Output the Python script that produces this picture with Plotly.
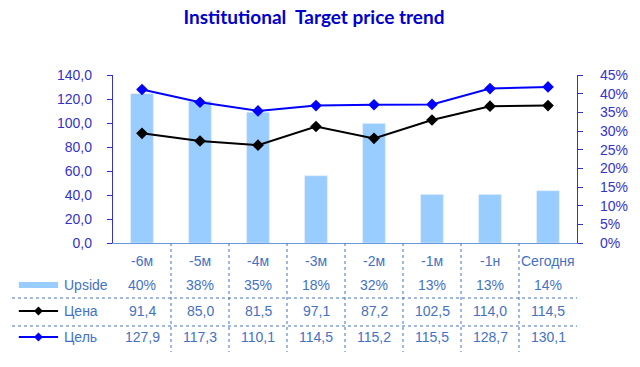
import plotly.graph_objects as go

categories = ["-6м", "-5м", "-4м", "-3м", "-2м", "-1м", "-1н", "Сегодня"]
upside = [0.40, 0.38, 0.35, 0.18, 0.32, 0.13, 0.13, 0.14]
price = [91.4, 85.0, 81.5, 97.1, 87.2, 102.5, 114.0, 114.5]
target = [127.9, 117.3, 110.1, 114.5, 115.2, 115.5, 128.7, 130.1]

series_names = ["Upside", "Цена", "Цель"]
left_ticks = [0, 20, 40, 60, 80, 100, 120, 140]

BAR = "#99CCFF"
AXIS = "#3333CC"
TXT = "#4472C4"
TARGET_C = "#0000FF"
FONT = "Liberation Sans, Arial, sans-serif"

# the page body has an 8px margin; work in screen pixels and compensate
OFF = 8
W, H = 640 - OFF, 367 - OFF
L, R, T, B = 113 - OFF, 586 - OFF, 75 - OFF, 243 - OFF


def px(x):
    return (x - OFF - L) / (R - L)


def py(y):
    return (B - (y - OFF)) / (B - T)


fig = go.Figure()
fig.add_trace(go.Bar(x=categories, y=upside, name=series_names[0], yaxis="y",
                     marker_color=BAR, showlegend=False))
fig.add_trace(go.Scatter(x=categories, y=price, name=series_names[1], mode="lines+markers",
                         yaxis="y2", line=dict(color="black", width=2),
                         marker=dict(symbol="diamond", size=9, color="black"), showlegend=False))
fig.add_trace(go.Scatter(x=categories, y=target, name=series_names[2], mode="lines+markers",
                         yaxis="y2", line=dict(color=TARGET_C, width=2),
                         marker=dict(symbol="diamond", size=9, color=TARGET_C), showlegend=False))

shapes = []
annotations = []

# table rows
row_y = [285, 311, 337]
row_text = [
    [f"{round(v * 100):d}%" for v in upside],
    [f"{v:.1f}".replace(".", ",") for v in price],
    [f"{v:.1f}".replace(".", ",") for v in target],
]
for c in categories:
    annotations.append(dict(x=c, xref="x", y=py(261), yref="paper", text=c, showarrow=False,
                            xanchor="center", yanchor="middle",
                            font=dict(family=FONT, size=14, color=TXT)))
for ry, texts in zip(row_y, row_text):
    for c, t in zip(categories, texts):
        annotations.append(dict(x=c, xref="x", y=py(ry), yref="paper", text=t, showarrow=False,
                                xanchor="center", yanchor="middle",
                                font=dict(family=FONT, size=14, color=TXT)))

# vertical dotted separators
for i in range(len(categories) - 1):
    shapes.append(dict(type="line", xref="x", yref="paper", x0=i + 0.5, x1=i + 0.5,
                       y0=0, y1=py(352), line=dict(color=TXT, width=1, dash="dot")))
# horizontal dotted separators
for hy in [298, 326]:
    shapes.append(dict(type="line", xref="paper", yref="paper", x0=px(10), x1=1,
                       y0=py(hy), y1=py(hy), line=dict(color=TXT, width=1, dash="dot")))

# legend keys
shapes.append(dict(type="rect", xref="paper", yref="paper", x0=px(17), x1=px(57),
                   y0=py(282), y1=py(288), fillcolor=BAR, line=dict(width=0)))
for ry, col in [(311, "black"), (337, TARGET_C)]:
    shapes.append(dict(type="line", xref="paper", yref="paper", x0=px(17), x1=px(57),
                       y0=py(ry), y1=py(ry), line=dict(color=col, width=2)))
    cx, cy, d = 37, ry, 4.5
    path = (f"M {px(cx)} {py(cy - d)} L {px(cx + d)} {py(cy)} L {px(cx)} {py(cy + d)} "
            f"L {px(cx - d)} {py(cy)} Z")
    shapes.append(dict(type="path", xref="paper", yref="paper", path=path,
                       fillcolor=col, line=dict(color=col, width=0)))
for ry, name in zip(row_y, series_names):
    annotations.append(dict(x=px(61), xref="paper", y=py(ry), yref="paper", text=name,
                            xanchor="left", yanchor="middle", showarrow=False,
                            font=dict(family=FONT, size=14, color=TXT)))

fig.update_layout(
    width=W, height=H, autosize=False,
    margin=dict(l=L, r=W - R, t=T, b=H - B, pad=0),
    paper_bgcolor="white", plot_bgcolor="white",
    separators=", ",
    title=dict(text="<b>Institutional  Target price trend</b>", x=(314 - OFF) / W, xanchor="center",
               y=1, yanchor="top", pad=dict(t=3),
               font=dict(family="Lato, sans-serif", size=19, color="#0000CC")),
    bargap=0.61,
    xaxis=dict(showticklabels=False, ticks="", showgrid=False, zeroline=False,
               showline=True, linecolor="#6699DD", linewidth=1, range=[-0.5, 7.5]),
    yaxis=dict(range=[0, 0.45], dtick=0.05, tickformat=".0%", side="right",
               ticks="outside", ticklen=5, tickcolor=AXIS, showline=True, linecolor=AXIS,
               linewidth=1.3, showgrid=False, zeroline=False, ticklabelstandoff=14,
               tickfont=dict(family=FONT, size=14, color=AXIS)),
    yaxis2=dict(range=[0, 140], tickvals=left_ticks, tickformat=".1f", overlaying="y",
                side="left", ticks="outside", ticklen=5, tickcolor=AXIS, showline=True,
                linecolor=AXIS, linewidth=1.3, showgrid=False, zeroline=False,
                ticklabelstandoff=12, tickfont=dict(family=FONT, size=14, color=AXIS)),
    yaxis3=dict(range=[0, 140], tickvals=left_ticks, overlaying="y", side="left",
                ticks="inside", ticklen=5, tickcolor=AXIS, showticklabels=False,
                showline=False, showgrid=False, zeroline=False),
    yaxis4=dict(range=[0, 0.45], dtick=0.05, overlaying="y", side="right",
                ticks="inside", ticklen=5, tickcolor=AXIS, showticklabels=False,
                showline=False, showgrid=False, zeroline=False),
    shapes=shapes,
    annotations=annotations,
)

fig.write_html("out.html")
